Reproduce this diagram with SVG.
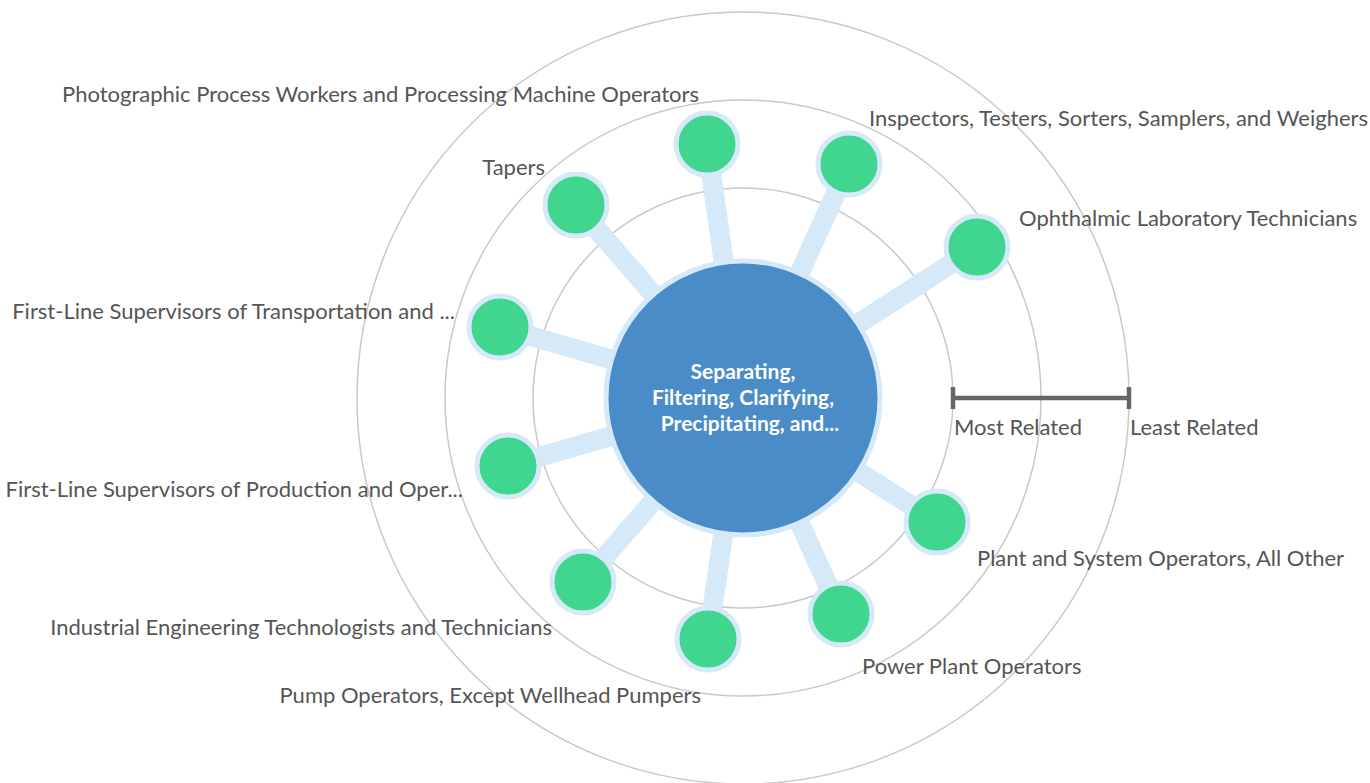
<svg xmlns="http://www.w3.org/2000/svg" width="1370" height="783" viewBox="0 0 1370 783">
<style>
.ring{fill:none;stroke:#c9c9c9;stroke-width:1.5}
.conn{stroke:#d6e9f8;stroke-width:20;stroke-linecap:butt}
.leaf{fill:#41d68f;stroke:#d6e9f8;stroke-width:5}
.hub{fill:#4a8cc7;stroke:#d6e9f8;stroke-width:5}
.lbl{font-family:Lato,"Liberation Sans",sans-serif;font-size:22px;fill:#555555}
.end{text-anchor:end}
.hubt{font-family:Lato,"Liberation Sans",sans-serif;font-size:21px;font-weight:bold;fill:#ffffff;text-anchor:middle}
.scale{stroke:#666666;stroke-width:4.5;fill:none}
</style>
<rect width="1370" height="783" fill="#ffffff"/>
<g id="rings">
<circle class="ring" cx="743" cy="398" r="210"/>
<circle class="ring" cx="743" cy="398" r="298"/>
<circle class="ring" cx="743" cy="398" r="386"/>
</g>
<g id="connectors">
<line class="conn" x1="743" y1="398" x2="707" y2="144"/>
<line class="conn" x1="743" y1="398" x2="849" y2="164"/>
<line class="conn" x1="743" y1="398" x2="977" y2="247"/>
<line class="conn" x1="743" y1="398" x2="576" y2="205"/>
<line class="conn" x1="743" y1="398" x2="500" y2="327"/>
<line class="conn" x1="743" y1="398" x2="508" y2="466"/>
<line class="conn" x1="743" y1="398" x2="583" y2="582"/>
<line class="conn" x1="743" y1="398" x2="708" y2="639"/>
<line class="conn" x1="743" y1="398" x2="841" y2="614"/>
<line class="conn" x1="743" y1="398" x2="937" y2="522"/>
</g>
<g id="center">
<circle class="hub" cx="743" cy="398" r="137"/>
<text class="hubt" x="743" y="379">Separating,</text>
<text class="hubt" x="743" y="405">Filtering, Clarifying,</text>
<text class="hubt" x="750" y="431">Precipitating, and...</text>
</g>
<g id="n1"><circle class="leaf" cx="707" cy="144" r="31"/><text class="lbl end" x="699" y="102">Photographic Process Workers and Processing Machine Operators</text></g>
<g id="n2"><circle class="leaf" cx="849" cy="164" r="31"/><text class="lbl" x="869" y="126">Inspectors, Testers, Sorters, Samplers, and Weighers</text></g>
<g id="n3"><circle class="leaf" cx="977" cy="247" r="31"/><text class="lbl" x="1019" y="226">Ophthalmic Laboratory Technicians</text></g>
<g id="n4"><circle class="leaf" cx="576" cy="205" r="31"/><text class="lbl end" x="545" y="175">Tapers</text></g>
<g id="n5"><circle class="leaf" cx="500" cy="327" r="31"/><text class="lbl end" x="455" y="319">First-Line Supervisors of Transportation and ...</text></g>
<g id="n6"><circle class="leaf" cx="508" cy="466" r="31"/><text class="lbl end" x="463" y="497">First-Line Supervisors of Production and Oper...</text></g>
<g id="n7"><circle class="leaf" cx="583" cy="582" r="31"/><text class="lbl end" x="552" y="635">Industrial Engineering Technologists and Technicians</text></g>
<g id="n8"><circle class="leaf" cx="708" cy="639" r="31"/><text class="lbl end" x="701" y="703">Pump Operators, Except Wellhead Pumpers</text></g>
<g id="n9"><circle class="leaf" cx="841" cy="614" r="31"/><text class="lbl" x="862" y="674">Power Plant Operators</text></g>
<g id="n10"><circle class="leaf" cx="937" cy="522" r="31"/><text class="lbl" x="977" y="566">Plant and System Operators, All Other</text></g>
<g id="scale">
<line class="scale" x1="953" y1="398" x2="1129" y2="398"/>
<line class="scale" x1="953" y1="387" x2="953" y2="409"/>
<line class="scale" x1="1129" y1="387" x2="1129" y2="409"/>
<text class="lbl" x="954" y="435">Most Related</text>
<text class="lbl" x="1130" y="435">Least Related</text>
</g>
</svg>
